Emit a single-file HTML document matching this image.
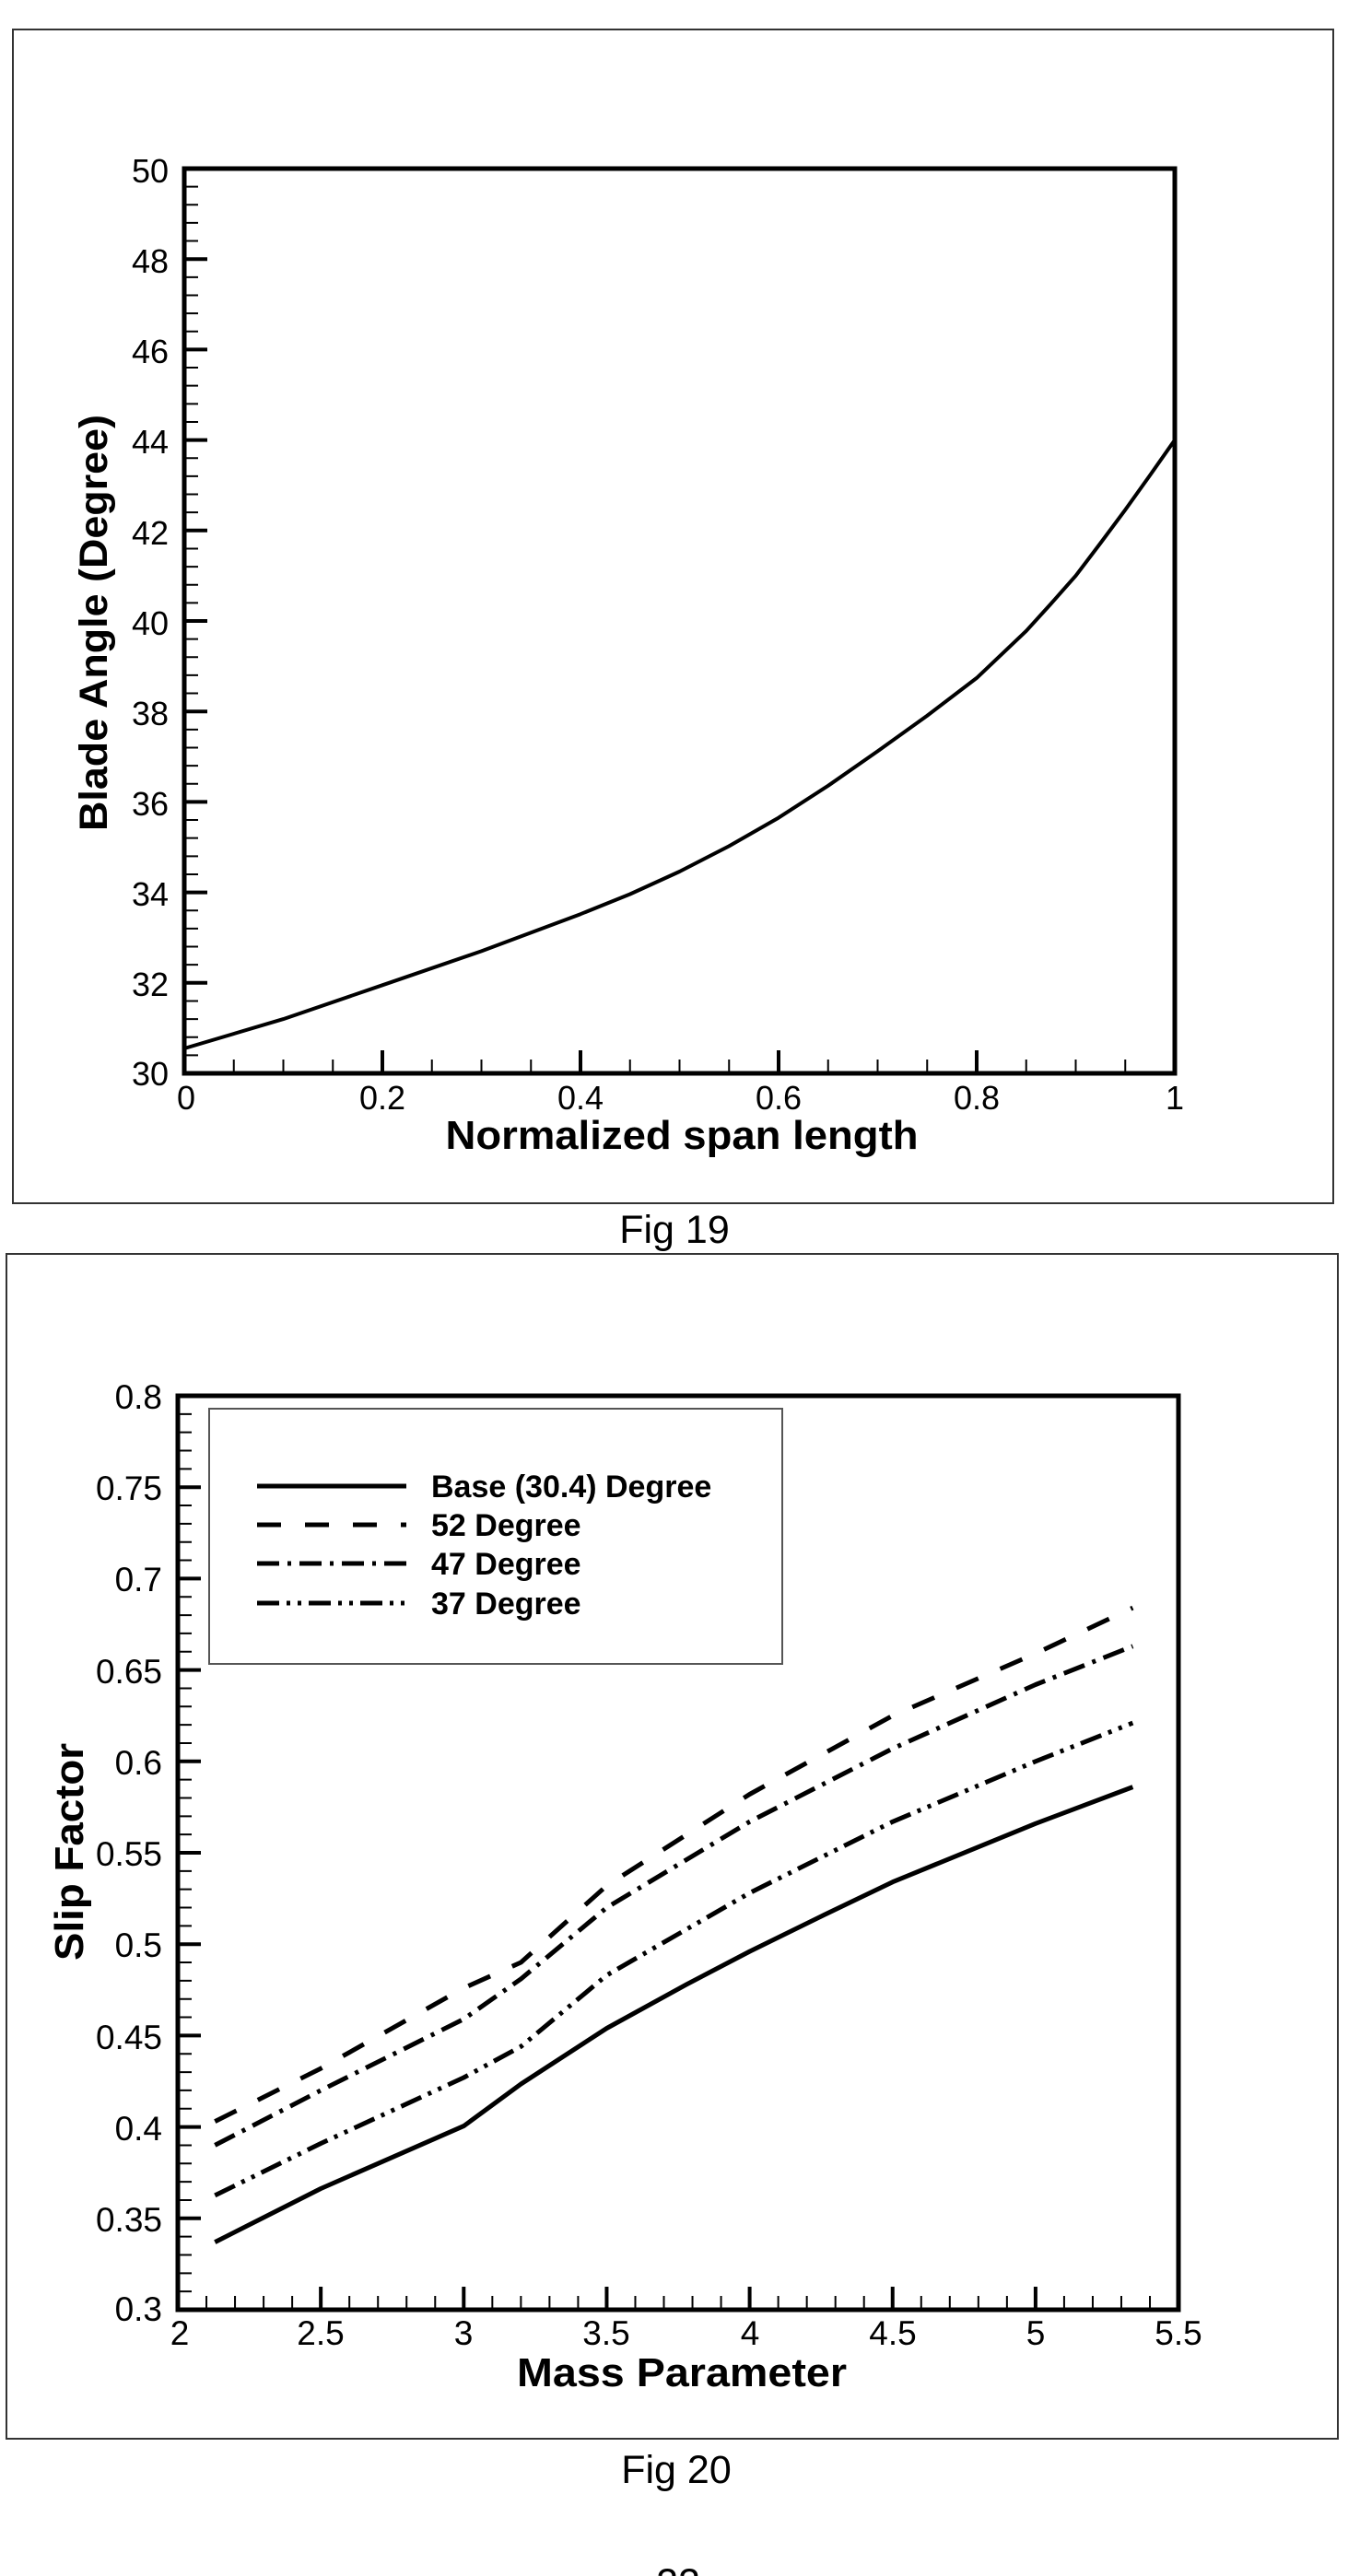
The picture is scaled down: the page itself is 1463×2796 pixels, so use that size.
<!DOCTYPE html>
<html><head><meta charset="utf-8"><style>
html,body{margin:0;padding:0;background:#fff;}
svg{display:block;}
text{font-family:"Liberation Sans",Arial,sans-serif;fill:#000;}
</style></head><body>
<svg width="1463" height="2796" viewBox="0 0 1463 2796" xmlns="http://www.w3.org/2000/svg">
<rect x="0" y="0" width="1463" height="2796" fill="#fff"/>
<!-- Frame 1 -->
<rect x="14" y="32" width="1433" height="1274" fill="none" stroke="#333" stroke-width="2"/>
<line x1="207.5" y1="1165" x2="207.5" y2="183" stroke="#000" stroke-width="15" stroke-dasharray="2 17.64" stroke-dashoffset="1"/>
<line x1="212.5" y1="1165" x2="212.5" y2="183" stroke="#000" stroke-width="25" stroke-dasharray="4 94.2" stroke-dashoffset="2"/>
<line x1="200" y1="1157.5" x2="1275" y2="1157.5" stroke="#000" stroke-width="15" stroke-dasharray="2 51.75" stroke-dashoffset="1"/>
<line x1="200" y1="1152.5" x2="1275" y2="1152.5" stroke="#000" stroke-width="25" stroke-dasharray="4 211" stroke-dashoffset="2"/>
<rect x="200" y="183" width="1075" height="982" fill="none" stroke="#000" stroke-width="5"/>
<path fill="none" stroke="#000" stroke-width="4" stroke-linejoin="round" d="M200,1138 L307.5,1106.1 L415,1069.3 L522.5,1032.4 L630,992.2 L683.8,970.5 L737.5,946 L791,918.5 L845,887.6 L898.8,852.8 L952.5,815.4 L1006,777 L1060,735.9 L1113.8,684.8 L1140,656 L1167.5,624.9 L1194,590 L1221.3,553.3 L1248,516 L1275,477.6"/>
<g font-size="36" text-anchor="end">
<text x="183" y="198">50</text><text x="183" y="296">48</text><text x="183" y="394">46</text><text x="183" y="492">44</text><text x="183" y="591">42</text><text x="183" y="689">40</text><text x="183" y="787">38</text><text x="183" y="885">36</text><text x="183" y="983">34</text><text x="183" y="1081">32</text><text x="183" y="1178">30</text>
</g>
<g font-size="36" text-anchor="middle">
<text x="202" y="1204">0</text><text x="415" y="1204">0.2</text><text x="630" y="1204">0.4</text><text x="845" y="1204">0.6</text><text x="1060" y="1204">0.8</text><text x="1275" y="1204">1</text>
</g>
<text x="740" y="1247" font-size="44" font-weight="bold" text-anchor="middle" textLength="513" lengthAdjust="spacingAndGlyphs">Normalized span length</text>
<text transform="translate(116,676) rotate(-90)" font-size="43" font-weight="bold" text-anchor="middle" textLength="452" lengthAdjust="spacingAndGlyphs">Blade Angle (Degree)</text>
<text x="732" y="1349" font-size="43" text-anchor="middle">Fig 19</text>

<!-- Frame 2 -->
<rect x="7" y="1361" width="1445" height="1286" fill="none" stroke="#333" stroke-width="2"/>
<line x1="200.5" y1="2507" x2="200.5" y2="1515" stroke="#000" stroke-width="15" stroke-dasharray="2 17.84" stroke-dashoffset="1"/>
<line x1="205.5" y1="2507" x2="205.5" y2="1515" stroke="#000" stroke-width="25" stroke-dasharray="4 95.2" stroke-dashoffset="2"/>
<line x1="193" y1="2499.5" x2="1279" y2="2499.5" stroke="#000" stroke-width="15" stroke-dasharray="2 29.03" stroke-dashoffset="1"/>
<line x1="193" y1="2494.5" x2="1279" y2="2494.5" stroke="#000" stroke-width="25" stroke-dasharray="4 151.15" stroke-dashoffset="2"/>
<rect x="193" y="1515" width="1086" height="992" fill="none" stroke="#000" stroke-width="5"/>
<rect x="227" y="1529" width="622" height="277" fill="#fff" stroke="#555" stroke-width="2"/>
<g stroke="#000" stroke-width="5" fill="none">
<line x1="279" y1="1613" x2="441" y2="1613"/>
<line x1="279" y1="1655" x2="441" y2="1655" stroke-dasharray="26 26"/>
<line x1="279" y1="1697" x2="441" y2="1697" stroke-dasharray="24 9 4 9"/>
<line x1="279" y1="1740" x2="441" y2="1740" stroke-dasharray="24 8 4 8 4 8"/>
</g>
<g font-size="34" font-weight="bold">
<text x="468" y="1625">Base (30.4)  Degree</text>
<text x="468" y="1667">52 Degree</text>
<text x="468" y="1709">47 Degree</text>
<text x="468" y="1752">37 Degree</text>
</g>
<g fill="none" stroke="#000" stroke-width="5" stroke-linejoin="round">
<polyline points="233.3,2433.6 348.2,2375.5 503.3,2307.6 565.4,2262 658.5,2201.5 745.3,2153.8 813.6,2118.1 894.3,2078.5 968.8,2042.7 1123.9,1979.3 1229.4,1939.6"/>
<polyline stroke-dasharray="24 8 4 8 4 8" points="233.3,2382.9 348.2,2326.5 503.3,2255 565.4,2221.3 658.5,2143.9 813.6,2054.6 968.8,1977.3 1123.9,1911.8 1229.4,1870.1"/>
<polyline stroke-dasharray="24 9 4 9" points="233.3,2328.4 348.2,2268.9 503.3,2191.5 565.4,2147.9 658.5,2070.5 813.6,1977.3 968.8,1897.9 1123.9,1828.5 1229.4,1786.8"/>
<polyline stroke-dasharray="26 26" points="233.3,2302.6 348.2,2245.1 503.3,2157.8 565.4,2130 658.5,2046.7 813.6,1947.5 968.8,1862.2 1123.9,1794.7 1229.4,1745.1"/>
</g>
<g font-size="37" text-anchor="end">
<text x="176" y="1529">0.8</text><text x="176" y="1628">0.75</text><text x="176" y="1727">0.7</text><text x="176" y="1827">0.65</text><text x="176" y="1926">0.6</text><text x="176" y="2025">0.55</text><text x="176" y="2124">0.5</text><text x="176" y="2224">0.45</text><text x="176" y="2323">0.4</text><text x="176" y="2422">0.35</text><text x="176" y="2519">0.3</text>
</g>
<g font-size="37" text-anchor="middle">
<text x="195" y="2545">2</text><text x="348" y="2545">2.5</text><text x="503" y="2545">3</text><text x="658" y="2545">3.5</text><text x="814" y="2545">4</text><text x="969" y="2545">4.5</text><text x="1124" y="2545">5</text><text x="1279" y="2545">5.5</text>
</g>
<text x="740" y="2590" font-size="44" font-weight="bold" text-anchor="middle" textLength="358" lengthAdjust="spacingAndGlyphs">Mass Parameter</text>
<text transform="translate(90,2010) rotate(-90)" font-size="44" font-weight="bold" text-anchor="middle" textLength="236" lengthAdjust="spacingAndGlyphs">Slip Factor</text>
<text x="734" y="2695" font-size="43" text-anchor="middle">Fig 20</text>
<text x="736" y="2818" font-size="43" text-anchor="middle">22</text>
</svg>
</body></html>
